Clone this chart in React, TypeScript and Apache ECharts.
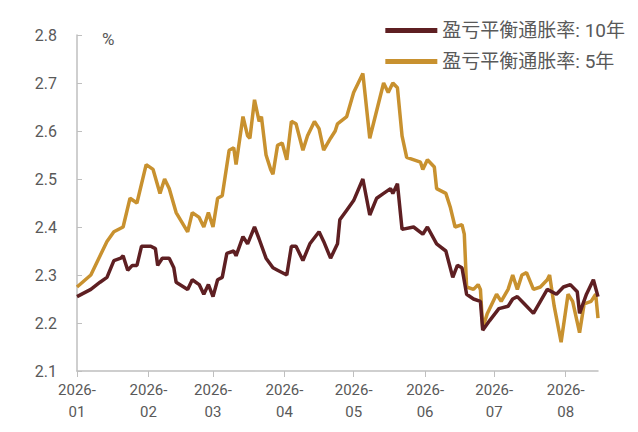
import React, { useEffect, useRef } from 'react';
import * as echarts from 'echarts';

// day offsets from 2026-01-01 and values
const days10 = [0, 6, 10, 13, 16, 19, 20, 22, 24, 26, 28, 32, 34, 35, 37, 40, 42, 43, 48, 50, 53, 55, 57, 59, 61, 63, 65, 68, 69, 72, 74, 77, 79, 82, 85, 87, 91, 93, 95, 98, 101, 105, 107, 110, 113, 114, 117, 120, 124, 127, 130, 133, 136, 137, 139, 141, 146, 150, 152, 156, 160, 163, 165, 167, 169, 172, 175, 176, 179, 183, 187, 189, 191, 194, 198, 201, 204, 208, 211, 214, 217, 218, 221, 224, 226];
const be10 = [2.255, 2.27, 2.285, 2.295, 2.33, 2.335, 2.34, 2.31, 2.32, 2.32, 2.36, 2.36, 2.355, 2.32, 2.335, 2.335, 2.315, 2.285, 2.27, 2.29, 2.28, 2.26, 2.28, 2.255, 2.29, 2.295, 2.345, 2.35, 2.34, 2.38, 2.365, 2.4, 2.375, 2.335, 2.315, 2.31, 2.3, 2.36, 2.36, 2.33, 2.365, 2.39, 2.37, 2.335, 2.365, 2.415, 2.435, 2.455, 2.5, 2.425, 2.46, 2.47, 2.48, 2.47, 2.49, 2.395, 2.4, 2.385, 2.4, 2.365, 2.35, 2.295, 2.32, 2.315, 2.26, 2.25, 2.245, 2.185, 2.205, 2.23, 2.235, 2.25, 2.255, 2.24, 2.22, 2.245, 2.27, 2.26, 2.275, 2.28, 2.265, 2.22, 2.26, 2.29, 2.255];

const days5 = [0, 6, 13, 16, 20, 23, 26, 30, 33, 36, 38, 40, 43, 48, 50, 53, 55, 57, 59, 61, 63, 66, 68, 69, 72, 74, 75, 77, 79, 80, 82, 84, 85, 87, 89, 91, 93, 95, 98, 100, 103, 105, 107, 110, 112, 113, 117, 120, 124, 127, 133, 135, 137, 139, 141, 143, 149, 150, 152, 155, 156, 160, 162, 164, 167, 168, 169, 172, 174, 175, 176, 178, 182, 184, 187, 189, 191, 193, 195, 198, 201, 204, 205, 207, 210, 213, 215, 218, 220, 223, 225, 226];
const be5 = [2.275, 2.3, 2.37, 2.39, 2.4, 2.46, 2.45, 2.53, 2.52, 2.47, 2.5, 2.48, 2.43, 2.39, 2.43, 2.42, 2.4, 2.43, 2.4, 2.46, 2.465, 2.56, 2.565, 2.53, 2.63, 2.59, 2.585, 2.665, 2.62, 2.63, 2.55, 2.52, 2.51, 2.57, 2.575, 2.54, 2.62, 2.615, 2.56, 2.59, 2.62, 2.605, 2.56, 2.585, 2.6, 2.615, 2.63, 2.68, 2.72, 2.585, 2.7, 2.68, 2.7, 2.69, 2.59, 2.545, 2.535, 2.52, 2.54, 2.525, 2.48, 2.47, 2.44, 2.4, 2.405, 2.385, 2.275, 2.27, 2.28, 2.27, 2.19, 2.22, 2.26, 2.245, 2.27, 2.3, 2.27, 2.3, 2.305, 2.27, 2.275, 2.29, 2.3, 2.235, 2.16, 2.26, 2.245, 2.18, 2.24, 2.245, 2.26, 2.21];

const names = ['盈亏平衡通胀率: 10年', '盈亏平衡通胀率: 5年'];
const colors = ['#5E1F22', '#C8912F'];

const toPairs = (days: number[], vals: number[]) =>
  days.map((d, i) => [new Date(2026, 0, 1 + d).getTime(), vals[i]]);

const App: React.FC = () => {
  const chartRef = useRef<HTMLDivElement>(null);

  useEffect(() => {
    if (!chartRef.current) return;
    const chart = echarts.init(chartRef.current, undefined, { renderer: 'svg' });
    const font = 'Roboto, "Noto Sans CJK SC", sans-serif';
    chart.setOption({
      animation: false,
      textStyle: { fontFamily: font },
      grid: { left: 69, right: 32, top: 27, bottom: 53 },
      legend: {
        orient: 'vertical',
        right: 0,
        top: 8,
        itemWidth: 52,
        itemHeight: 5,
        itemGap: 12,
        icon: 'rect',
        textStyle: { fontSize: 19, color: '#595959', fontFamily: font },
        data: names
      },
      graphic: [
        { type: 'text', left: 94, top: 22, style: { text: '%', fontSize: 17, fill: '#595959', fontFamily: font } }
      ],
      xAxis: {
        type: 'time',
        min: new Date(2026, 0, 1).getTime(),
        max: new Date(2026, 7, 15).getTime(),
        interval: 30 * 86400000,
        minInterval: 28 * 86400000,
        axisLine: { lineStyle: { color: '#BFBFBF', width: 1.5 } },
        axisTick: { show: true, length: 6, lineStyle: { color: '#BFBFBF' } },
        axisLabel: {
          color: '#595959',
          fontSize: 15,
          lineHeight: 22,
          hideOverlap: false,
          formatter: (v: number) => {
            const d = new Date(v);
            return d.getFullYear() + '-\n' + String(d.getMonth() + 1).padStart(2, '0');
          }
        },
        splitLine: { show: false }
      },
      yAxis: {
        type: 'value',
        min: 2.1,
        max: 2.8,
        interval: 0.1,
        axisLine: { show: true, lineStyle: { color: '#BFBFBF', width: 1.5 } },
        axisTick: { show: true, inside: true, length: 5, lineStyle: { color: '#BFBFBF' } },
        axisLabel: { color: '#595959', fontSize: 16, margin: 20, formatter: (v: number) => v.toFixed(1) },
        splitLine: { show: false }
      },
      series: [
        {
          name: names[0],
          type: 'line',
          showSymbol: false,
          data: toPairs(days10, be10),
          lineStyle: { color: colors[0], width: 3.5 },
          itemStyle: { color: colors[0] },
          z: 3
        },
        {
          name: names[1],
          type: 'line',
          showSymbol: false,
          data: toPairs(days5, be5),
          lineStyle: { color: colors[1], width: 3.5 },
          itemStyle: { color: colors[1] },
          z: 2
        }
      ]
    });
    return () => chart.dispose();
  }, []);

  return <div ref={chartRef} style={{ width: 622, height: 416 }} />;
};

export default App;
